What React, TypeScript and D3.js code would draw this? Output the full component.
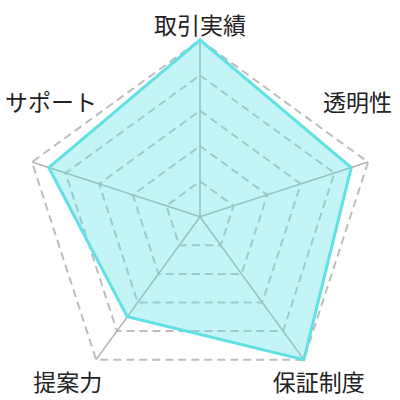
import React from 'react';
import { scaleLinear, range, lineRadial, curveLinearClosed } from 'd3';

const categories = ['取引実績', '透明性', '保証制度', '提案力', 'サポート'];
const scores = [5, 4.5, 5, 3.5, 4.5];
const levels = [1, 2, 3, 4, 5];
const maxScore = 5;

const width = 400;
const height = 400;
const cx = 200;
const cy = 216.7;
const radius = 176.7;

const font = '"Noto Sans CJK JP", "Noto Sans", sans-serif';

const App: React.FC = () => {
  const rScale = scaleLinear().domain([0, maxScore]).range([0, radius]);
  const angle = (i: number) => (i / categories.length) * Math.PI * 2;
  const point = (i: number, v: number): [number, number] => [
    cx + Math.sin(angle(i)) * rScale(v),
    cy - Math.cos(angle(i)) * rScale(v),
  ];

  const radar = lineRadial<number>()
    .angle((_, i) => angle(i))
    .radius((d) => rScale(d))
    .curve(curveLinearClosed);

  // label placement around each outer vertex
  const labelPlace = (i: number) => {
    const [vx, vy] = point(i, maxScore);
    if (i === 0) return { x: vx, y: vy - 6.5, anchor: 'middle' };
    if (i === 1) return { x: vx + 24, y: vy - 51, anchor: 'end' };
    if (i === 2) return { x: vx - 31, y: vy + 31, anchor: 'start' };
    if (i === 3) return { x: vx + 6, y: vy + 31, anchor: 'end' };
    return { x: vx - 27, y: vy - 51, anchor: 'start' };
  };

  return (
    <svg
      width={width}
      height={height}
      style={{ position: 'absolute', left: 0, top: 0, background: '#fff' }}
    >
      {/* dashed rings */}
      {levels.map((lv) => (
        <path
          key={lv}
          d={radar(categories.map(() => lv)) ?? ''}
          transform={`translate(${cx},${cy})`}
          fill="none"
          stroke="#bdbdbd"
          strokeWidth={2}
          strokeDasharray="8 5"
        />
      ))}
      {/* axes */}
      {range(categories.length).map((i) => {
        const [x, y] = point(i, maxScore);
        return (
          <line
            key={i}
            x1={cx}
            y1={cy}
            x2={x}
            y2={y}
            stroke="#b3b3b3"
            strokeWidth={1.6}
          />
        );
      })}
      {/* data */}
      <path
        d={radar(scores) ?? ''}
        transform={`translate(${cx},${cy})`}
        fill="rgba(94, 225, 230, 0.36)"
        stroke="#62e1e5"
        strokeWidth={3}
        strokeLinejoin="miter"
      />
      {categories.map((c, i) => {
        const p = labelPlace(i);
        return (
          <text
            key={c}
            x={p.x}
            y={p.y}
            textAnchor={p.anchor as 'start' | 'middle' | 'end'}
            fontFamily={font}
            fontSize={23}
            fill="#222"
          >
            {c}
          </text>
        );
      })}
    </svg>
  );
};

export default App;
